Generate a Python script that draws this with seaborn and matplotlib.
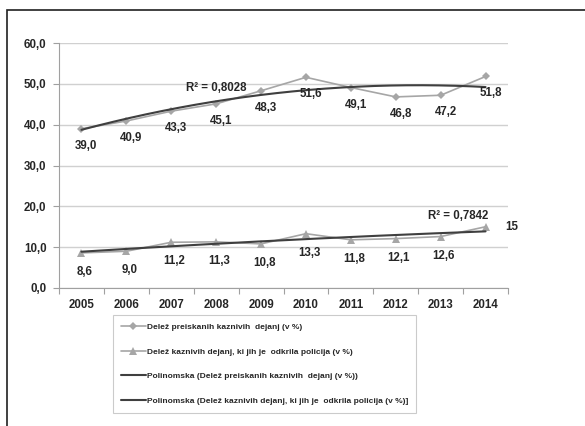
import numpy as np
import pandas as pd
import matplotlib
matplotlib.use("Agg")
import matplotlib.pyplot as plt
import seaborn as sns
from matplotlib.patches import Rectangle

years = ["2005", "2006", "2007", "2008", "2009", "2010", "2011", "2012", "2013", "2014"]
preiskani = [39.0, 40.9, 43.3, 45.1, 48.3, 51.6, 49.1, 46.8, 47.2, 51.8]
odkrila = [8.6, 9.0, 11.2, 11.3, 10.8, 13.3, 11.8, 12.1, 12.6, 15.0]
labels_top = ["39,0", "40,9", "43,3", "45,1", "48,3", "51,6", "49,1", "46,8", "47,2", "51,8"]
labels_bot = ["8,6", "9,0", "11,2", "11,3", "10,8", "13,3", "11,8", "12,1", "12,6", "15"]
yticks = [0, 10, 20, 30, 40, 50, 60]
ytick_labels = ["0,0", "10,0", "20,0", "30,0", "40,0", "50,0", "60,0"]
r2_top = "R² = 0,8028"
r2_bot = "R² = 0,7842"
leg_names = [
    "Delež preiskanih kaznivih  dejanj (v %)",
    "Delež kaznivih dejanj, ki jih je  odkrila policija (v %)",
    "Polinomska (Delež preiskanih kaznivih  dejanj (v %))",
    "Polinomska (Delež kaznivih dejanj, ki jih je  odkrila policija (v %)]",
]

sns.set_theme(style="white")
plt.rcParams["font.family"] = ["Liberation Sans", "DejaVu Sans"]

x = np.arange(len(years))
df = pd.DataFrame({"x": x, "preiskani": preiskani, "odkrila": odkrila})

fig = plt.figure(figsize=(5.85, 4.26), dpi=100)
ax = fig.add_axes([59 / 585, 1 - 288 / 426, (508 - 59) / 585, (288 - 43) / 426])

series_col = "#a6a6a6"
trend_col = "#3f3f3f"
txt_col = "#262626"

sns.lineplot(data=df, x="x", y="preiskani", ax=ax, color=series_col, marker="D",
             markersize=4, linewidth=1.2, markeredgewidth=0, label=leg_names[0])
sns.lineplot(data=df, x="x", y="odkrila", ax=ax, color=series_col, marker="^",
             markersize=5.5, linewidth=1.2, markeredgewidth=0, label=leg_names[1])

xf = np.linspace(0, len(years) - 1, 200)
c1 = np.polyfit(x, preiskani, 2)
c2 = np.polyfit(x, odkrila, 2)
sns.lineplot(x=xf, y=np.polyval(c1, xf), ax=ax, color=trend_col, linewidth=1.5, label=leg_names[2])
sns.lineplot(x=xf, y=np.polyval(c2, xf), ax=ax, color=trend_col, linewidth=1.5, label=leg_names[3])

fs = 8.3
for i, (v, t) in enumerate(zip(preiskani, labels_top)):
    ax.annotate(t, (i, v), xytext=(5, -17), textcoords="offset pixels", ha="center",
                va="center", fontsize=fs, fontweight="bold", color=txt_col)
for i, (v, t) in enumerate(zip(odkrila, labels_bot)):
    if i == len(odkrila) - 1:
        ax.annotate(t, (i, v), xytext=(26, 0), textcoords="offset pixels", ha="center",
                    va="center", fontsize=fs, fontweight="bold", color=txt_col)
    else:
        ax.annotate(t, (i, v), xytext=(3, -19), textcoords="offset pixels", ha="center",
                    va="center", fontsize=fs, fontweight="bold", color=txt_col)

ax.text(3.0, 49.1, r2_top, ha="center", va="center", fontsize=fs, fontweight="bold", color=txt_col)
ax.text(8.4, 17.6, r2_bot, ha="center", va="center", fontsize=fs, fontweight="bold", color=txt_col)

ax.set_xlim(-0.5, len(years) - 0.5)
ax.set_ylim(0, 60)
ax.set_yticks(yticks)
ax.set_yticklabels(ytick_labels)
ax.set_xticks(x)
ax.set_xticklabels(years)
ax.set_xticks(np.arange(-0.5, len(years), 1), minor=True)
ax.tick_params(axis="x", which="major", length=0, pad=8, labelsize=fs, labelcolor=txt_col)
ax.tick_params(axis="x", which="minor", length=4, width=0.8, color="#a0a0a0", direction="out", bottom=True)
ax.tick_params(axis="y", length=4, width=0.8, color="#a0a0a0", direction="out", left=True,
               labelsize=fs, labelcolor=txt_col, pad=5)
for lab in ax.get_xticklabels() + ax.get_yticklabels():
    lab.set_fontweight("bold")
ax.set_xlabel("")
ax.set_ylabel("")
ax.grid(axis="y", color="#d0d0d0", linewidth=1.0)
ax.set_axisbelow(True)
for s in ["top", "right"]:
    ax.spines[s].set_visible(False)
ax.spines["left"].set_color("#a0a0a0")
ax.spines["bottom"].set_color("#a0a0a0")
ax.spines["left"].set_linewidth(0.8)
ax.spines["bottom"].set_linewidth(0.8)

leg = ax.legend(loc="upper left", bbox_to_anchor=(113 / 585, 1 - 315 / 426),
                bbox_transform=fig.transFigure, frameon=True, fancybox=False,
                fontsize=6.0, handlelength=2.9, handletextpad=0.15, labelspacing=2.0,
                borderpad=1.0, borderaxespad=0)
leg.get_frame().set_edgecolor("#bfbfbf")
leg.get_frame().set_linewidth(0.8)
for t in leg.get_texts():
    t.set_fontweight("bold")
    t.set_color(txt_col)

fig.patches.append(Rectangle((7 / 585, -0.2), 1.2, 1.2 - 10 / 426, transform=fig.transFigure,
                             fill=False, edgecolor="#202020", linewidth=1.2))

fig.savefig("out.png", dpi=100)
